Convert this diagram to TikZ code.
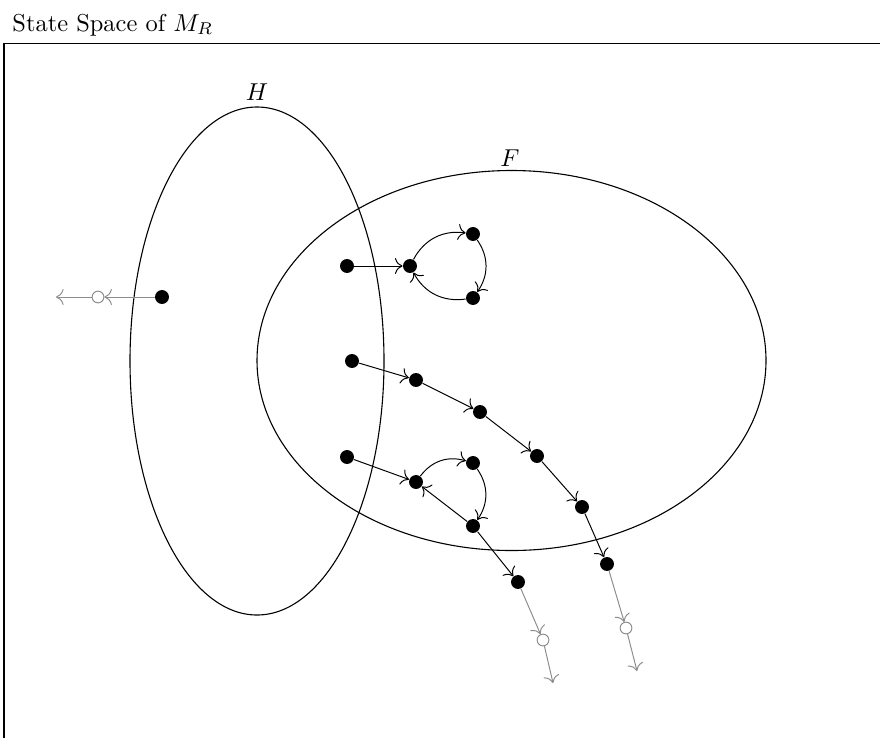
\documentclass[tikz,border=0pt]{standalone}
\usetikzlibrary{arrows.meta}
\begin{document}
\begin{tikzpicture}[x=0.40909pt,y=-0.40909pt,
  >={To[scale=1.25]},
  st/.style={circle,fill=black,inner sep=0pt,minimum size=5.7pt},
  ghost/.style={circle,draw=black!45,fill=white,inner sep=0pt,minimum size=4.8pt,line width=0.4pt},
  tr/.style={->,line width=0.4pt},
  gtr/.style={->,draw=black!45,line width=0.4pt},
  setline/.style={line width=0.45pt}]
\useasboundingbox (0,0) rectangle (880,738);
\coordinate (fb) at (4,738);
\coordinate (fc) at (4,43.5);
\coordinate (fr) at (880,43.5);
\draw[line width=0.7pt] (fb) -- (fc) -- (fr);
\node[anchor=base west, inner sep=0pt] (title) at (12,31) {State Space of $M_R$};
% sets
\draw[setline] (257,361) ellipse [x radius=127, y radius=254];
\node (Hl) at (257,92) {$H$};
\draw[setline] (511.5,360.5) ellipse [x radius=254.5, y radius=190];
\node (Fl) at (510,158) {$F$};
% left state
\node[st] (l1) at (162,297) {};
\node[ghost] (l2) at (98,297) {};
\coordinate (l3) at (56,297);
\draw[gtr] (l1) -- (l2);
\draw[gtr] (l2) -- (l3);
% top cluster
\node[st] (a1) at (347,266) {};
\node[st] (a2) at (410,266) {};
\node[st] (a3) at (473,234) {};
\node[st] (a4) at (473,298) {};
\draw[tr] (a1) -- (a2);
\draw[tr] (a2) to[bend left=35] (a3);
\draw[tr] (a3) to[bend left=35] (a4);
\draw[tr] (a4) to[bend left=35] (a2);
% middle chain
\node[st] (m1) at (352,361) {};
\node[st] (m2) at (416,380) {};
\node[st] (m3) at (480,412) {};
\node[st] (m4) at (537,456) {};
\node[st] (m5) at (582,507) {};
\node[st] (m6) at (607,564) {};
\node[ghost] (m7) at (626,628) {};
\coordinate (m8) at (637,671);
\draw[tr] (m1) -- (m2);
\draw[tr] (m2) -- (m3);
\draw[tr] (m3) -- (m4);
\draw[tr] (m4) -- (m5);
\draw[tr] (m5) -- (m6);
\draw[gtr] (m6) -- (m7);
\draw[gtr] (m7) -- (m8);
% bottom cluster
\node[st] (b1) at (347,457) {};
\node[st] (b2) at (416,482) {};
\node[st] (b3) at (473,463) {};
\node[st] (b4) at (473,526) {};
\node[st] (b5) at (518,582) {};
\node[ghost] (b6) at (543,640) {};
\coordinate (b7) at (553,683);
\draw[tr] (b1) -- (b2);
\draw[tr] (b2) to[bend left=35] (b3);
\draw[tr] (b3) to[bend left=35] (b4);
\draw[tr] (b4) -- (b2);
\draw[tr] (b4) -- (b5);
\draw[gtr] (b5) -- (b6);
\draw[gtr] (b6) -- (b7);
\end{tikzpicture}
\end{document}
